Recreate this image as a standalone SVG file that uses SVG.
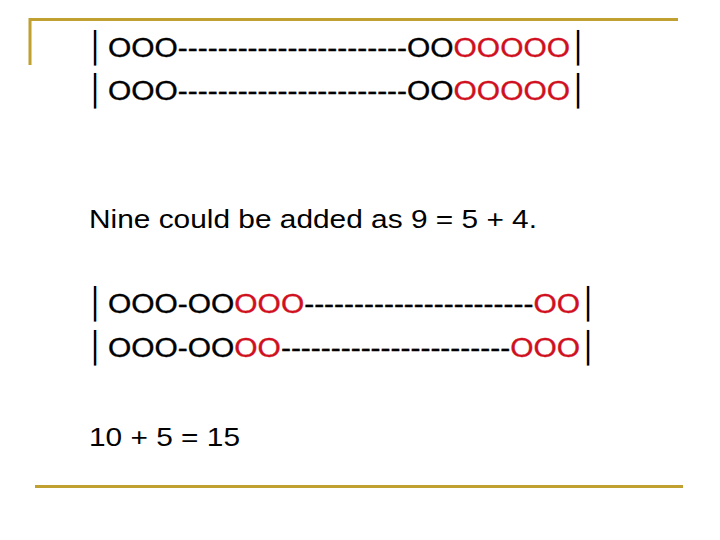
<svg xmlns="http://www.w3.org/2000/svg" width="720" height="540" viewBox="0 0 720 540">
<style>
.t{font-family:"Liberation Sans",Arial,sans-serif;font-size:25px;fill:#000}
.o{font-family:"Liberation Sans",Arial,sans-serif;font-size:27px;fill:#000;stroke:#000;stroke-width:0.35}
.r{fill:#d01020;stroke:#d01020}
.bar{font-family:"DejaVu Sans",sans-serif;font-size:30px;fill:#000;text-anchor:middle}
.gold{stroke:#c0a030;stroke-width:3;fill:none}
</style>
<rect width="720" height="540" fill="#fff"/>
<g id="frame">
<path class="gold" d="M30 65 V19.5 H678"/>
<path class="gold" d="M35 486.5 H683"/>
</g>
<g id="row1">
<text class="bar" x="95" y="58">│</text>
<text class="o" x="108" y="57" textLength="462" lengthAdjust="spacingAndGlyphs">OOO-----------------------OO<tspan class="r">OOOOO</tspan></text>
<text class="bar" x="578" y="58">│</text>
</g>
<g id="row2">
<text class="bar" x="95" y="101">│</text>
<text class="o" x="108" y="100" textLength="462" lengthAdjust="spacingAndGlyphs">OOO-----------------------OO<tspan class="r">OOOOO</tspan></text>
<text class="bar" x="578" y="101">│</text>
</g>
<g id="nine">
<text class="t" x="89" y="228" textLength="448" lengthAdjust="spacingAndGlyphs">Nine could be added as 9 = 5 + 4.</text>
</g>
<g id="row3">
<text class="bar" x="95" y="314">│</text>
<text class="o" x="108" y="313" textLength="472" lengthAdjust="spacingAndGlyphs">OOO-OO<tspan class="r">OOO</tspan>-----------------------<tspan class="r">OO</tspan></text>
<text class="bar" x="588" y="314">│</text>
</g>
<g id="row4">
<text class="bar" x="95" y="358">│</text>
<text class="o" x="108" y="357" textLength="472" lengthAdjust="spacingAndGlyphs">OOO-OO<tspan class="r">OO</tspan>-----------------------<tspan class="r">OOO</tspan></text>
<text class="bar" x="588" y="358">│</text>
</g>
<g id="sum">
<text class="t" x="89" y="446" textLength="151" lengthAdjust="spacingAndGlyphs">10 + 5 = 15</text>
</g>
</svg>
